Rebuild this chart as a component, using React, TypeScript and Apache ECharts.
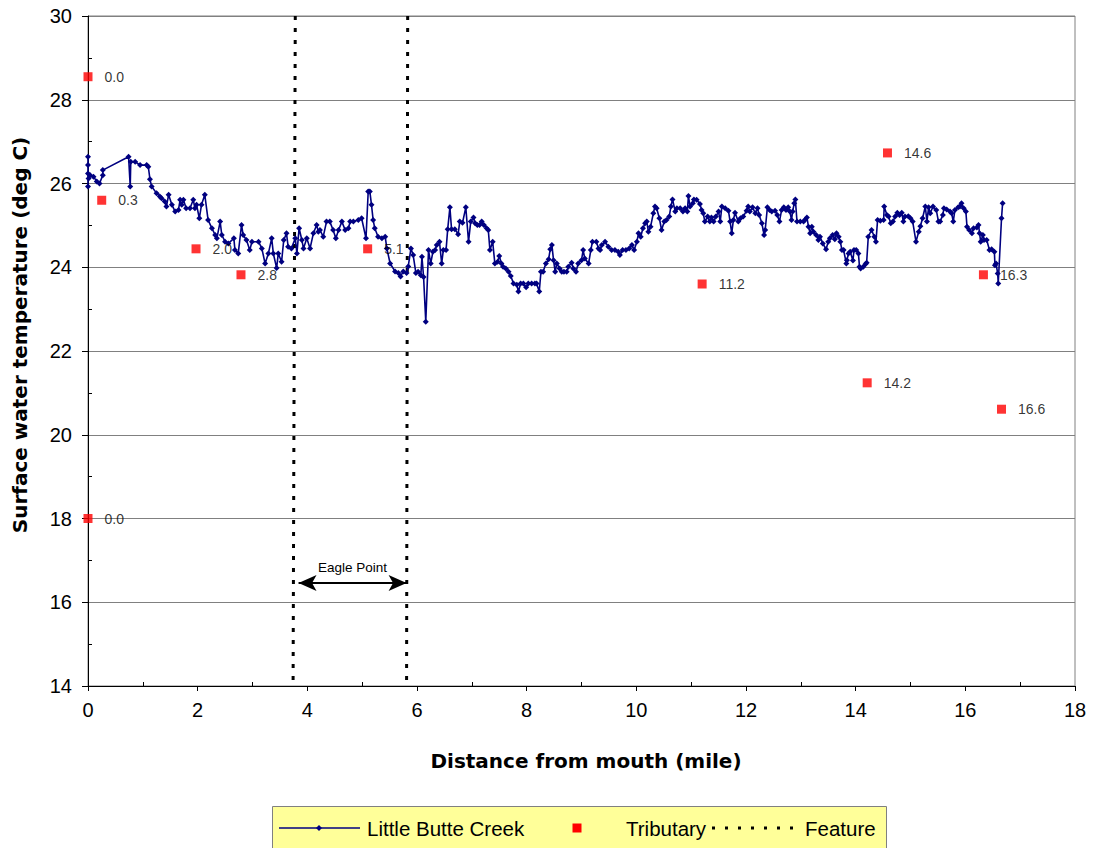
import React, { useEffect, useRef } from 'react';
import * as echarts from 'echarts';

// Little Butte Creek: [distance from mouth (mile), surface water temperature (deg C)]
const creekPoints: [number, number][] = [
  [0, 25.93], [0, 26.64], [0, 26.44], [0, 26.24], [0.01, 26.12], [0.04, 26.2], [0.1, 26.16], [0.16, 26.05], [0.21, 26.0],
  [0.27, 26.2], [0.27, 26.32], [0.74, 26.64], [0.77, 25.93], [0.78, 26.52], [0.86, 26.52], [0.95, 26.44], [1.07, 26.44],
  [1.1, 26.4], [1.13, 26.1], [1.16, 25.93], [1.25, 25.77], [1.31, 25.69], [1.34, 25.65], [1.4, 25.57], [1.43, 25.45],
  [1.47, 25.73], [1.53, 25.49], [1.59, 25.33], [1.65, 25.37], [1.68, 25.61], [1.71, 25.49], [1.74, 25.61], [1.79, 25.41],
  [1.86, 25.41], [1.92, 25.61], [1.95, 25.41], [1.98, 25.49], [2.03, 25.17], [2.07, 25.49], [2.13, 25.73], [2.19, 25.13],
  [2.26, 24.93], [2.32, 24.77], [2.35, 24.69], [2.41, 25.09], [2.44, 24.77], [2.5, 24.61], [2.56, 24.57], [2.66, 24.69],
  [2.68, 24.41], [2.74, 24.33], [2.8, 25.01], [2.83, 24.77], [2.89, 24.65], [2.95, 24.41], [2.99, 24.61], [3.11, 24.61],
  [3.17, 24.45], [3.23, 24.09], [3.29, 24.33], [3.35, 24.69], [3.38, 24.33], [3.44, 23.98], [3.47, 24.33], [3.53, 24.13],
  [3.57, 24.65], [3.62, 24.81], [3.65, 24.49], [3.71, 24.45], [3.78, 24.69], [3.81, 24.33], [3.85, 24.93], [3.9, 24.65],
  [3.93, 24.45], [3.99, 24.69], [4.05, 24.45], [4.11, 24.81], [4.17, 25.01], [4.2, 24.85], [4.23, 24.89], [4.29, 24.73],
  [4.35, 25.09], [4.41, 25.09], [4.47, 24.89], [4.52, 24.69], [4.57, 24.89], [4.63, 25.09], [4.69, 24.89], [4.75, 24.93],
  [4.78, 25.09], [4.84, 25.09], [4.93, 25.13], [4.99, 25.17], [5.07, 24.69], [5.11, 25.81], [5.14, 25.81], [5.17, 25.49],
  [5.2, 25.13], [5.23, 24.93], [5.29, 24.73], [5.36, 24.69], [5.42, 24.73], [5.45, 24.45], [5.51, 24.09], [5.6, 23.9],
  [5.66, 23.86], [5.7, 23.78], [5.75, 23.9], [5.81, 23.86], [5.84, 24.02], [5.89, 24.45], [5.93, 24.29], [5.98, 23.86],
  [6.02, 23.89], [6.07, 23.81], [6.09, 24.25], [6.12, 23.77], [6.16, 22.7], [6.21, 24.41], [6.25, 24.09], [6.29, 24.37],
  [6.33, 24.41], [6.36, 24.53], [6.41, 24.61], [6.45, 24.09], [6.48, 24.41], [6.53, 24.41], [6.56, 24.91], [6.6, 25.43],
  [6.63, 24.91], [6.69, 24.91], [6.75, 24.79], [6.78, 25.09], [6.83, 25.06], [6.89, 25.43], [6.94, 24.61], [6.98, 25.09],
  [7.03, 25.19], [7.06, 25.05], [7.1, 25.01], [7.14, 25.01], [7.18, 25.09], [7.22, 25.01], [7.27, 24.93], [7.3, 24.89],
  [7.33, 24.41], [7.38, 24.61], [7.42, 24.09], [7.47, 24.13], [7.5, 24.27], [7.54, 24.09], [7.57, 24.01], [7.62, 23.97],
  [7.67, 23.89], [7.71, 23.79], [7.76, 23.61], [7.82, 23.58], [7.85, 23.42], [7.89, 23.61], [7.94, 23.61], [7.99, 23.52],
  [8.03, 23.61], [8.09, 23.61], [8.15, 23.61], [8.18, 23.61], [8.23, 23.42], [8.26, 23.89], [8.3, 23.89], [8.35, 24.09],
  [8.4, 24.19], [8.43, 24.43], [8.46, 24.53], [8.49, 24.17], [8.52, 23.89], [8.55, 24.09], [8.6, 23.97], [8.64, 23.89],
  [8.68, 23.89], [8.73, 23.89], [8.76, 24.01], [8.82, 24.11], [8.85, 23.97], [8.9, 23.89], [8.94, 24.09], [9.0, 24.17],
  [9.03, 24.41], [9.06, 24.21], [9.13, 24.09], [9.17, 24.41], [9.2, 24.61], [9.27, 24.61], [9.31, 24.45], [9.34, 24.41],
  [9.37, 24.53], [9.43, 24.61], [9.49, 24.49], [9.55, 24.41], [9.61, 24.41], [9.67, 24.37], [9.7, 24.29], [9.75, 24.41],
  [9.81, 24.41], [9.87, 24.45], [9.92, 24.53], [9.96, 24.41], [10.01, 24.61], [10.04, 24.81], [10.08, 24.73], [10.12, 24.93],
  [10.16, 25.05], [10.19, 25.09], [10.22, 24.85], [10.26, 24.97], [10.31, 25.29], [10.34, 25.45], [10.37, 25.41], [10.42, 25.17],
  [10.46, 24.89], [10.51, 25.09], [10.55, 25.13], [10.6, 25.21], [10.63, 25.45], [10.66, 25.62], [10.71, 25.33], [10.74, 25.41],
  [10.8, 25.41], [10.85, 25.33], [10.89, 25.41], [10.93, 25.33], [10.95, 25.7], [10.98, 25.45], [11.03, 25.53], [11.05, 25.62],
  [11.1, 25.61], [11.16, 25.51], [11.19, 25.37], [11.22, 25.29], [11.25, 25.09], [11.3, 25.21], [11.34, 25.09], [11.37, 25.19],
  [11.41, 25.09], [11.45, 25.21], [11.5, 25.33], [11.53, 25.09], [11.56, 25.45], [11.62, 25.41], [11.68, 25.35], [11.71, 25.09],
  [11.74, 24.81], [11.77, 25.13], [11.8, 25.3], [11.86, 25.09], [11.9, 25.17], [11.95, 25.21], [12.01, 25.35], [12.04, 25.45],
  [12.07, 25.33], [12.12, 25.43], [12.17, 25.29], [12.21, 25.41], [12.24, 25.25], [12.29, 25.05], [12.33, 24.77], [12.35, 24.89],
  [12.39, 25.43], [12.43, 25.37], [12.47, 25.33], [12.53, 25.35], [12.57, 25.25], [12.61, 25.09], [12.65, 25.37], [12.69, 25.43],
  [12.73, 25.37], [12.77, 25.43], [12.8, 25.33], [12.83, 25.13], [12.85, 25.33], [12.88, 25.53], [12.9, 25.62], [12.93, 25.09],
  [12.99, 25.09], [13.05, 25.09], [13.08, 25.14], [13.11, 25.19], [13.14, 24.97], [13.17, 24.81], [13.2, 24.97], [13.23, 24.85],
  [13.28, 24.77], [13.32, 24.65], [13.35, 24.73], [13.4, 24.57], [13.46, 24.43], [13.5, 24.61], [13.53, 24.69], [13.58, 24.77],
  [13.62, 24.67], [13.65, 24.81], [13.69, 24.73], [13.72, 24.61], [13.75, 24.41], [13.78, 24.41], [13.83, 24.09], [13.84, 24.17],
  [13.87, 24.33], [13.9, 24.37], [13.95, 24.16], [13.97, 24.41], [14.01, 24.41], [14.05, 24.33], [14.07, 24.01], [14.09, 23.97],
  [14.14, 24.01], [14.18, 24.08], [14.2, 24.11], [14.23, 24.73], [14.29, 24.89], [14.34, 24.73], [14.37, 24.61], [14.4, 25.13],
  [14.45, 25.11], [14.51, 25.13], [14.52, 25.45], [14.57, 25.25], [14.6, 25.21], [14.64, 25.05], [14.68, 25.09], [14.72, 25.21],
  [14.76, 25.3], [14.8, 25.25], [14.84, 25.3], [14.87, 25.09], [14.9, 25.21], [14.96, 25.22], [15.0, 25.17], [15.04, 25.09],
  [15.1, 24.61], [15.15, 24.85], [15.18, 24.98], [15.22, 25.17], [15.27, 25.45], [15.3, 25.09], [15.33, 25.43], [15.36, 25.29],
  [15.41, 25.45], [15.47, 25.37], [15.51, 25.09], [15.54, 25.09], [15.59, 25.25], [15.61, 25.41], [15.66, 25.38], [15.72, 25.33],
  [15.75, 25.29], [15.78, 25.09], [15.81, 25.37], [15.87, 25.43], [15.9, 25.45], [15.93, 25.53], [15.97, 25.41], [16.01, 25.33],
  [16.03, 24.97], [16.07, 24.89], [16.12, 24.81], [16.15, 24.93], [16.21, 24.95], [16.24, 25.01], [16.26, 24.81], [16.28, 24.61],
  [16.32, 24.77], [16.34, 24.65], [16.39, 24.65], [16.44, 24.41], [16.48, 24.43], [16.53, 24.37], [16.54, 24.05], [16.56, 24.09],
  [16.59, 23.85], [16.6, 23.61], [16.66, 25.17], [16.68, 25.53],
];

// Tributaries: [mile, temperature] and their labels
const tributaryPoints: [number, number][] = [
  [0, 28.55], [0.25, 25.6], [1.97, 24.44], [2.79, 23.82], [5.1, 24.44], [11.2, 23.6],
  [14.21, 21.24], [14.58, 26.73], [16.33, 23.82], [16.66, 20.61], [0, 18.0],
];
const tributaryLabels = ['0.0', '0.3', '2.0', '2.8', '5.1', '11.2', '14.2', '14.6', '16.3', '16.6', '0.0'];

// Feature (Eagle Point) boundary lines: [mile, temp] at top and bottom
const featureLineA: [number, number][] = [[3.78, 30], [3.74, 14]];
const featureLineB: [number, number][] = [[5.83, 30], [5.81, 14]];
const eaglePointStart: [number, number] = [3.84, 16.46];
const eaglePointEnd: [number, number] = [5.81, 16.46];
const eaglePointLabel = 'Eagle Point';

const xMinorTicks = [1, 3, 5, 7, 9, 11, 13, 15, 17];
const yMinorTicks = [15, 17, 19, 21, 23, 25, 27, 29];

const FONT = '"Liberation Sans", Arial, sans-serif';
const TITLE_FONT = '"DejaVu Sans", sans-serif';

export default function App() {
  const ref = useRef<HTMLDivElement>(null);

  useEffect(() => {
    document.body.style.margin = '0';
    if (!ref.current) return;
    const chart = echarts.init(ref.current, undefined, { renderer: 'svg' });
    const gridRect = { left: 88, top: 16, right: 19, bottom: 162 };
    const option: any = {
      animation: false,
      backgroundColor: '#ffffff',
      grid: [
        { ...gridRect, show: true, borderColor: '#808080', borderWidth: 1, backgroundColor: 'transparent' },
        { ...gridRect, show: false },
      ],
      xAxis: [
        {
          type: 'value', gridIndex: 0, min: 0, max: 18, interval: 2,
          axisLine: { show: true, onZero: false, lineStyle: { color: '#000', width: 1 } },
          axisTick: { show: true, inside: false, length: 5, lineStyle: { color: '#000' } },
          axisLabel: { color: '#000', fontSize: 20, fontFamily: FONT, margin: 14 },
          splitLine: { show: false },
        },
        {
          type: 'value', gridIndex: 1, min: 0, max: 18, interval: 1,
          axisLine: { show: false },
          axisTick: { show: true, inside: true, length: 4, customValues: xMinorTicks, lineStyle: { color: '#000' } },
          axisLabel: { show: false },
          splitLine: { show: false },
        },
      ],
      yAxis: [
        {
          type: 'value', gridIndex: 0, min: 14, max: 30, interval: 2,
          axisLine: { show: true, onZero: false, lineStyle: { color: '#000', width: 1 } },
          axisTick: { show: true, inside: false, length: 6, lineStyle: { color: '#000' } },
          axisLabel: { color: '#000', fontSize: 20, fontFamily: FONT, margin: 16 },
          splitLine: { show: true, lineStyle: { color: '#808080', width: 1 } },
        },
        {
          type: 'value', gridIndex: 1, min: 14, max: 30, interval: 1,
          axisLine: { show: false },
          axisTick: { show: true, inside: true, length: 4, customValues: yMinorTicks, lineStyle: { color: '#000' } },
          axisLabel: { show: false },
          splitLine: { show: false },
        },
      ],
      series: [
        {
          name: 'Feature', type: 'line', xAxisIndex: 0, yAxisIndex: 0,
          data: featureLineA, symbol: 'none', silent: true, z: 2,
          lineStyle: { color: '#000', width: 3, type: [4, 8], cap: 'butt' },
          markLine: {
            silent: true,
            symbol: ['arrow', 'arrow'],
            symbolSize: [12, 18],
            lineStyle: { color: '#000', width: 2, type: 'solid' },
            label: {
              show: true, position: 'middle', formatter: eaglePointLabel,
              color: '#000', fontSize: 13.5, fontFamily: FONT, distance: 8,
            },
            data: [[{ coord: eaglePointStart }, { coord: eaglePointEnd }]],
          },
        },
        {
          name: 'Feature', type: 'line', xAxisIndex: 0, yAxisIndex: 0,
          data: featureLineB, symbol: 'none', silent: true, z: 2,
          lineStyle: { color: '#000', width: 3, type: [4, 8], cap: 'butt' },
        },
        {
          name: 'Little Butte Creek', type: 'line', xAxisIndex: 0, yAxisIndex: 0,
          data: creekPoints, symbol: 'diamond', symbolSize: 6, showAllSymbol: true,
          color: '#000080', z: 3,
          lineStyle: { color: '#000080', width: 1.6 },
          itemStyle: { color: '#000080' },
        },
        {
          name: 'Tributary', type: 'scatter', xAxisIndex: 0, yAxisIndex: 0,
          data: tributaryPoints, symbol: 'rect', symbolSize: 9, z: 4,
          itemStyle: { color: '#FF0000' },
          label: {
            show: true, position: 'right', distance: 12,
            formatter: (p: any) => tributaryLabels[p.dataIndex],
            color: '#000', fontSize: 14, fontFamily: FONT,
          },
        },
      ],
      graphic: [
        {
          type: 'text', x: 20, y: 335, rotation: Math.PI / 2,
          style: {
            text: 'Surface water temperature (deg C)', fill: '#000',
            font: `bold 20px ${TITLE_FONT}`, align: 'center', verticalAlign: 'middle',
          },
        },
        {
          type: 'text', x: 586, y: 761,
          style: {
            text: 'Distance from mouth (mile)', fill: '#000',
            font: `bold 20px ${TITLE_FONT}`, align: 'center', verticalAlign: 'middle',
          },
        },
        // Legend box
        {
          type: 'rect', shape: { x: 272.5, y: 806.5, width: 614, height: 50 },
          style: { fill: '#FFFF99', stroke: '#808080', lineWidth: 1 },
        },
        {
          type: 'line', shape: { x1: 279, y1: 828, x2: 360, y2: 828 },
          style: { stroke: '#000080', lineWidth: 1.6 },
        },
        {
          type: 'polygon', shape: { points: [[319, 825], [322, 828], [319, 831], [316, 828]] },
          style: { fill: '#000080' },
        },
        {
          type: 'text', x: 367, y: 828,
          style: { text: 'Little Butte Creek', fill: '#000', font: `20.5px ${FONT}`, verticalAlign: 'middle' },
        },
        {
          type: 'rect', shape: { x: 572.5, y: 823.5, width: 9, height: 9 },
          style: { fill: '#FF0000' },
        },
        {
          type: 'text', x: 626, y: 828,
          style: { text: 'Tributary', fill: '#000', font: `20.5px ${FONT}`, verticalAlign: 'middle' },
        },
        {
          type: 'line', shape: { x1: 712, y1: 828, x2: 800, y2: 828 },
          style: { stroke: '#000', lineWidth: 3, lineDash: [3, 10] },
        },
        {
          type: 'text', x: 805, y: 828,
          style: { text: 'Feature', fill: '#000', font: `20.5px ${FONT}`, verticalAlign: 'middle' },
        },
      ],
    };
    chart.setOption(option);
    return () => chart.dispose();
  }, []);

  return <div ref={ref} style={{ width: 1094, height: 848 }} />;
}
